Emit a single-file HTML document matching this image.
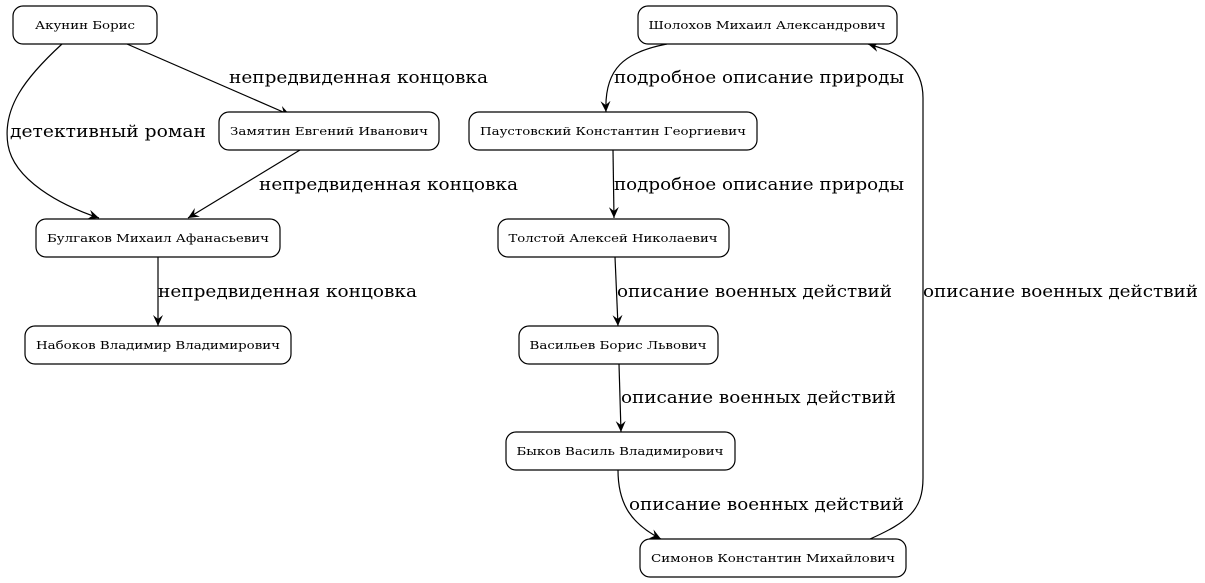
<!DOCTYPE html>
<html><head><meta charset="utf-8"><style>
html,body{margin:0;padding:0;background:#fff;}
svg{display:block;}
.n{fill:#fff;stroke:#000;stroke-width:1.2;}
.nt{font-family:"DejaVu Serif","Liberation Serif",serif;font-size:11px;text-anchor:middle;}
.et{font-family:"DejaVu Serif","Liberation Serif",serif;font-size:17px;}
.e{fill:none;stroke:#000;stroke-width:1.2;}
</style></head><body>
<svg width="1205" height="583" viewBox="0 0 1205 583" xmlns="http://www.w3.org/2000/svg">
<defs>
<marker id="a" markerWidth="12" markerHeight="10" refX="11" refY="5" orient="auto" markerUnits="userSpaceOnUse">
<path d="M0,0 L11,5 L0,10 L4,5 Z" fill="#000"/>
</marker>
</defs>
<!-- edges -->
<path class="e" marker-end="url(#a)" d="M127,44 L290,115"/>
<path class="e" marker-end="url(#a)" d="M62,44 C25,78 2,108 8,145 C14,180 60,205 99,218"/>
<path class="e" marker-end="url(#a)" d="M300,150 L188,218"/>
<path class="e" marker-end="url(#a)" d="M158,257 L158,326"/>
<path class="e" marker-end="url(#a)" d="M667,44 C625,52 604,68 606,112"/>
<path class="e" marker-end="url(#a)" d="M613,150 L614,218"/>
<path class="e" marker-end="url(#a)" d="M615,257 L618,326"/>
<path class="e" marker-end="url(#a)" d="M619,364 L621,432"/>
<path class="e" marker-end="url(#a)" d="M618,470 C618,505 632,524 661,539"/>
<path class="e" marker-end="url(#a)" d="M870,539 C908,522 923,510 923,478 L923,98 C923,66 903,54 868,44"/>
<!-- edge labels -->
<text class="et" x="229" y="83" textLength="259" lengthAdjust="spacingAndGlyphs">непредвиденная концовка</text>
<text class="et" x="10" y="137" textLength="196" lengthAdjust="spacingAndGlyphs">детективный роман</text>
<text class="et" x="259" y="190" textLength="259" lengthAdjust="spacingAndGlyphs">непредвиденная концовка</text>
<text class="et" x="158" y="297" textLength="259" lengthAdjust="spacingAndGlyphs">непредвиденная концовка</text>
<text class="et" x="614" y="83" textLength="290" lengthAdjust="spacingAndGlyphs">подробное описание природы</text>
<text class="et" x="614" y="190" textLength="290" lengthAdjust="spacingAndGlyphs">подробное описание природы</text>
<text class="et" x="617" y="297" textLength="275" lengthAdjust="spacingAndGlyphs">описание военных действий</text>
<text class="et" x="621" y="403" textLength="275" lengthAdjust="spacingAndGlyphs">описание военных действий</text>
<text class="et" x="629" y="510" textLength="275" lengthAdjust="spacingAndGlyphs">описание военных действий</text>
<text class="et" x="923" y="297" textLength="275" lengthAdjust="spacingAndGlyphs">описание военных действий</text>
<!-- nodes -->
<rect class="n" x="13" y="6" width="144" height="38" rx="10"/>
<text class="nt" x="85" y="29" textLength="100" lengthAdjust="spacingAndGlyphs">Акунин Борис</text>
<rect class="n" x="219" y="112" width="220" height="38" rx="10"/>
<text class="nt" x="329" y="135" textLength="198" lengthAdjust="spacingAndGlyphs">Замятин Евгений Иванович</text>
<rect class="n" x="36" y="219" width="244" height="38" rx="10"/>
<text class="nt" x="158" y="242" textLength="222" lengthAdjust="spacingAndGlyphs">Булгаков Михаил Афанасьевич</text>
<rect class="n" x="25" y="326" width="266" height="38" rx="10"/>
<text class="nt" x="158" y="349" textLength="244" lengthAdjust="spacingAndGlyphs">Набоков Владимир Владимирович</text>
<rect class="n" x="638" y="6" width="259" height="38" rx="10"/>
<text class="nt" x="767" y="29" textLength="237" lengthAdjust="spacingAndGlyphs">Шолохов Михаил Александрович</text>
<rect class="n" x="469" y="112" width="288" height="38" rx="10"/>
<text class="nt" x="613" y="135" textLength="266" lengthAdjust="spacingAndGlyphs">Паустовский Константин Георгиевич</text>
<rect class="n" x="498" y="219" width="231" height="38" rx="10"/>
<text class="nt" x="613" y="242" textLength="209" lengthAdjust="spacingAndGlyphs">Толстой Алексей Николаевич</text>
<rect class="n" x="519" y="326" width="199" height="38" rx="10"/>
<text class="nt" x="618" y="349" textLength="177" lengthAdjust="spacingAndGlyphs">Васильев Борис Львович</text>
<rect class="n" x="506" y="432" width="229" height="38" rx="10"/>
<text class="nt" x="620" y="455" textLength="207" lengthAdjust="spacingAndGlyphs">Быков Василь Владимирович</text>
<rect class="n" x="640" y="539" width="266" height="38" rx="10"/>
<text class="nt" x="773" y="562" textLength="244" lengthAdjust="spacingAndGlyphs">Симонов Константин Михайлович</text>
</svg>
</body></html>
